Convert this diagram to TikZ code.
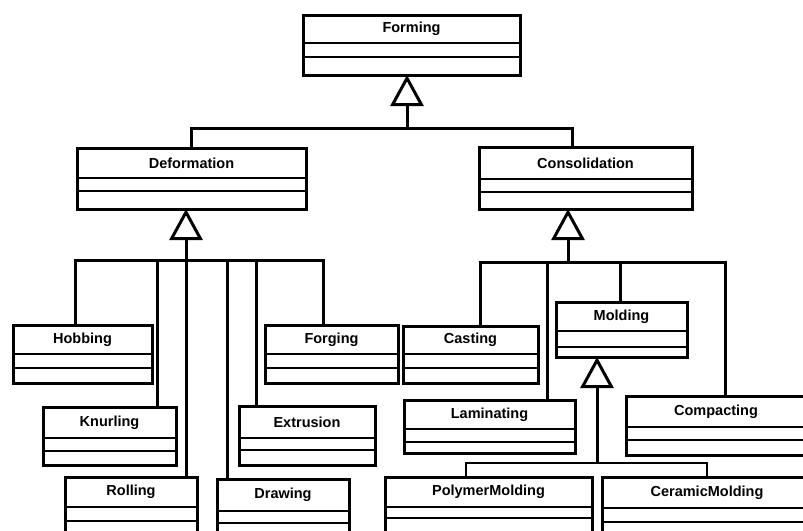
\documentclass[tikz,border=0pt]{standalone}
\usepackage{fontspec}
\setmainfont{Liberation Sans}
\usetikzlibrary{arrows.meta}
\tikzset{
  clsbox/.style={draw=black, line width=3pt, rectangle, inner sep=0pt, outer sep=0pt, fill=white},
  clsdiv/.style={draw=black, line width=2.3pt},
  clslabel/.style={font=\bfseries\fontsize{14.5}{16}\selectfont, inner sep=0pt},
  conn/.style={draw=black, line width=3pt},
  thinconn/.style={draw=black, line width=1.6pt},
  gen/.style={conn, -{Triangle[open, length=31pt, width=33pt, line width=3pt]}},
}
% name, x1, y1, x2, y2, divider1, divider2, label
\newcommand{\umlclassbox}[8]{%
  \node[clsbox, anchor=north west, minimum width={(#4-#2)*1pt}, minimum height={(#5-#3)*1pt}] (#1) at (#2,#3) {};
  \draw[clsdiv] (#2,#6) -- (#4,#6);
  \draw[clsdiv] (#2,#7) -- (#4,#7);
  \node[clslabel] (#1-name) at ({(#2+#4)/2},{(#3+#6)/2}) {#8};
}
\begin{document}
\begin{tikzpicture}[x=1pt, y=-1pt]
\useasboundingbox (0,0) rectangle (803,530);
\clip (0,0) rectangle (803,530);

% classes
\umlclassbox{forming}{303}{15}{520}{75}{43}{57}{Forming}
\umlclassbox{deformation}{77}{148}{306}{209}{178}{191}{Deformation}
\umlclassbox{consolidation}{479}{147}{692}{209}{179}{192}{Consolidation}
\umlclassbox{hobbing}{13}{325}{152}{383}{354}{368}{Hobbing}
\umlclassbox{forging}{265}{325}{398}{383}{354}{368}{Forging}
\umlclassbox{knurling}{43}{407}{176}{465}{438}{451}{Knurling}
\umlclassbox{extrusion}{239}{406}{375}{465}{438}{450}{Extrusion}
\umlclassbox{rolling}{65}{477}{197}{545}{507}{521}{Rolling}
\umlclassbox{drawing}{217}{479}{349}{545}{511}{523}{Drawing}
\umlclassbox{casting}{403}{326}{538}{383}{354}{368}{Casting}
\umlclassbox{molding}{556}{302}{687}{357}{331}{347}{Molding}
\umlclassbox{laminating}{404}{400}{575}{453}{429}{442}{Laminating}
\umlclassbox{compacting}{626}{396}{806}{455}{427}{440}{Compacting}
\umlclassbox{polymer}{385}{477}{592}{545}{507}{518}{PolymerMolding}
\umlclassbox{ceramic}{602}{477}{812}{545}{508}{522}{CeramicMolding}

% Forming hierarchy
\coordinate (fbus) at (407,128);
\coordinate (cstem) at (572,128);
\draw[conn] (deformation.north) |- (cstem) -- (cstem |- consolidation.north);
\draw[gen] (fbus) -- (fbus |- forming.south);

% Deformation hierarchy
\coordinate (dtrunk) at (186,260);
\coordinate (dhob) at (75,260);
\coordinate (dknu) at (157,260);
\coordinate (ddra) at (227,260);
\coordinate (dext) at (256,260);
\coordinate (dfor) at (323,260);
\draw[conn] (dhob |- hobbing.north) -- (dhob) -- (dfor) -- (dfor |- forging.north);
\draw[gen] (dtrunk) -- (dtrunk |- deformation.south);
\draw[conn] (dtrunk) -- (dtrunk |- rolling.north);
\draw[conn] (dknu) -- (dknu |- knurling.north);
\draw[conn] (ddra) -- (ddra |- drawing.north);
\draw[conn] (dext) -- (dext |- extrusion.north);

% Consolidation hierarchy
\coordinate (ctrunk) at (568,262);
\coordinate (ccas) at (480,262);
\coordinate (clam) at (547,262);
\coordinate (cmol) at (620,262);
\coordinate (ccom) at (725,262);
\draw[conn] (ccas |- casting.north) -- (ccas) -- (ccom) -- (ccom |- compacting.north);
\draw[gen] (ctrunk) -- (ctrunk |- consolidation.south);
\draw[conn] (clam) -- (clam |- laminating.north);
\draw[conn] (cmol) -- (cmol |- molding.north);

% Molding hierarchy
\coordinate (mtrunk) at (597,463);
\coordinate (mpol) at (466,463);
\coordinate (mcer) at (707,463);
\draw[gen] (mtrunk) -- (mtrunk |- molding.south);
\draw[thinconn] (mpol |- polymer.north) -- (mpol) -- (mcer) -- (mcer |- ceramic.north);
\end{tikzpicture}
\end{document}
